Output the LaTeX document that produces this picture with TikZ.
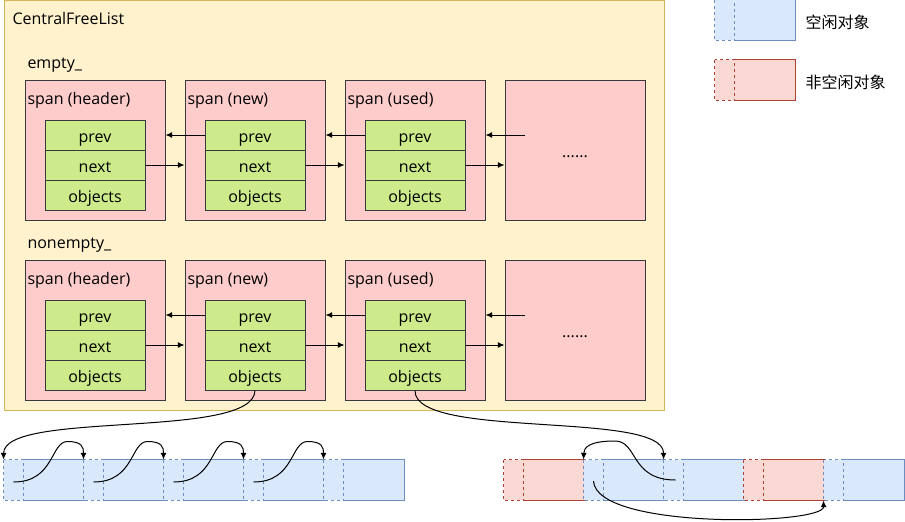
\documentclass[tikz,border=0pt]{standalone}
\usepackage{fontspec}
\setmainfont{Open Sans}
\newfontfamily\cjkfont{Noto Sans CJK SC}
\usetikzlibrary{arrows.meta}
\usetikzlibrary{positioning}

\definecolor{listfill}{HTML}{FFF2CC}
\definecolor{listline}{HTML}{D6B656}
\definecolor{spanfill}{HTML}{FFCCCC}
\definecolor{darkline}{HTML}{36393D}
\definecolor{fieldfill}{HTML}{CDEB8B}
\definecolor{freefill}{HTML}{DAE8FC}
\definecolor{freeline}{HTML}{6C8EBF}
\definecolor{usedfill}{HTML}{FAD9D5}
\definecolor{usedline}{HTML}{AE4132}

\tikzset{
  spanbox/.style={draw=darkline,fill=spanfill,minimum width=105pt,minimum height=105pt,inner sep=0pt,text height=10.5pt,text depth=0pt},
  field/.style={draw=darkline,fill=fieldfill,minimum width=75pt,minimum height=22.5pt,inner sep=0pt,text height=12pt,text depth=1.5pt},
  txt/.style={inner sep=0pt,anchor=west,text height=10pt,text depth=1pt},
  freecell/.style={fill=freefill,minimum width=60pt,minimum height=30pt,inner sep=0pt},
  usedcell/.style={fill=usedfill,minimum width=60pt,minimum height=30pt,inner sep=0pt},
  hdrdash/.style={dashed,dash pattern=on 2.25pt off 2.25pt},
  arr/.style={-{Latex[length=5pt,width=4.5pt]}},
}

\begin{document}
\begin{tikzpicture}[x=0.75pt,y=-0.75pt,line width=0.75pt,font=\fontsize{12pt}{14pt}\selectfont]
	\useasboundingbox (0,0) rectangle (905,521);
	
	% CentralFreeList
	\node[draw=listline,fill=listfill,minimum width=495pt,minimum height=307.5pt,inner sep=0pt] (cfl) at (334.5,205.5) {};
	\node[txt] (cflname) at (12,18) {CentralFreeList};
	\node[txt] (emptylbl) at (27,62) {empty\_};
	\node[txt] (nonemptylbl) at (27,242) {nonempty\_};
	
	% spans
	\foreach \r/\y in {e/150,n/330} {
		\foreach \i/\x/\t in {1/95/span (header),2/255/span (new),3/415/span (used)} {
			\node[spanbox] (\r\i) at (\x,\y) {};
			\node[txt] (\r\i lbl) at (\x-68,\y-52) {\t};
			\node[field] (\r\i prev) at (\x,\y-15) {prev};
			\node[field] (\r\i next) at (\x,\y+15) {next};
			\node[field] (\r\i obj) at (\x,\y+45) {objects};
		}
		\node[spanbox] (\r4) at (575,\y) {......};
		\coordinate (\r4p) at (525,\y-15);
	}
	
	% prev / next
	\foreach \r in {e,n} {
		\draw[arr] (\r2prev.west) -- (\r2prev.west -| \r1.east);
		\draw[arr] (\r3prev.west) -- (\r3prev.west -| \r2.east);
		\draw[arr] (\r4p) -- (\r4p -| \r3.east);
		\draw[arr] (\r1next.east) -- (\r1next.east -| \r2.west);
		\draw[arr] (\r2next.east) -- (\r2next.east -| \r3.west);
		\draw[arr] (\r3next.east) -- (\r3next.east -| \r4.west);
	}
	
	% object strips
	\foreach \c/\x in {a1/44,a2/124,a3/204,a4/284,a5/364,b2/624,b3/704,b5/864}
		\node[freecell] (\c) at (\x,480) {};
	\foreach \c/\x in {b1/544,b4/784}
		\node[usedcell] (\c) at (\x,480) {};
	
	\foreach \c in {a1,a2,a3,a4,a5,b2,b3,b5} {
		\draw[freeline] ([xshift=15pt]\c.north west) -- (\c.north east);
		\draw[freeline] ([xshift=15pt]\c.south west) -- (\c.south east);
		\draw[freeline,hdrdash] (\c.north west) rectangle ([xshift=15pt]\c.south west);
	}
	\foreach \c in {b1,b4} {
		\draw[usedline] ([xshift=15pt]\c.north west) -- (\c.north east);
		\draw[usedline] ([xshift=15pt]\c.south west) -- (\c.south east);
		\draw[usedline,hdrdash] (\c.north west) rectangle ([xshift=15pt]\c.south west);
	}
	\draw[freeline] (a5.north east) -- (a5.south east);
	\draw[freeline] (b5.north east) -- (b5.south east);
	
	% free list in strip 1
	\draw[arr] (n2obj.south) .. controls (254,440) and (4,410) .. (a1.north west);
	\foreach \c/\d in {a1/a2,a2/a3,a3/a4,a4/a5}
		\draw[arr] ([shift={(10,2)}]\c.west) .. controls +(41,0) and +(-17,0) .. ([shift={(-17,-18)}]\c.north east)
			.. controls +(15,0) and +(0,-12) .. (\d.north west);
	
	% free list in strip 2
	\draw[arr] (n3obj.south) .. controls (414,440) and (664,410) .. (b3.north west);
	\draw[arr] ([shift={(12,0)}]b3.west) .. controls (630,480) and (638,441) .. (615,441)
		.. controls (588,441) and (584,448) .. (b2.north west);
	\draw[arr] ([shift={(10,1)}]b2.west) .. controls (596,530) and (824,525) .. (b5.south west);
	
	% legend
	\node[freecell] (k1) at (755,20) {};
	\draw[freeline] ([xshift=15pt]k1.north west) -- (k1.north east) -- (k1.south east) -- ([xshift=15pt]k1.south west);
	\draw[freeline,hdrdash] (k1.north west) rectangle ([xshift=15pt]k1.south west);
	\node[txt] (k1lbl) at (805,22) {\cjkfont 空闲对象};
	
	\node[usedcell] (k2) at (755,80) {};
	\draw[usedline] ([xshift=15pt]k2.north west) -- (k2.north east) -- (k2.south east) -- ([xshift=15pt]k2.south west);
	\draw[usedline,hdrdash] (k2.north west) rectangle ([xshift=15pt]k2.south west);
	\node[txt] (k2lbl) at (805,82) {\cjkfont 非空闲对象};
	
\end{tikzpicture}
\end{document}
